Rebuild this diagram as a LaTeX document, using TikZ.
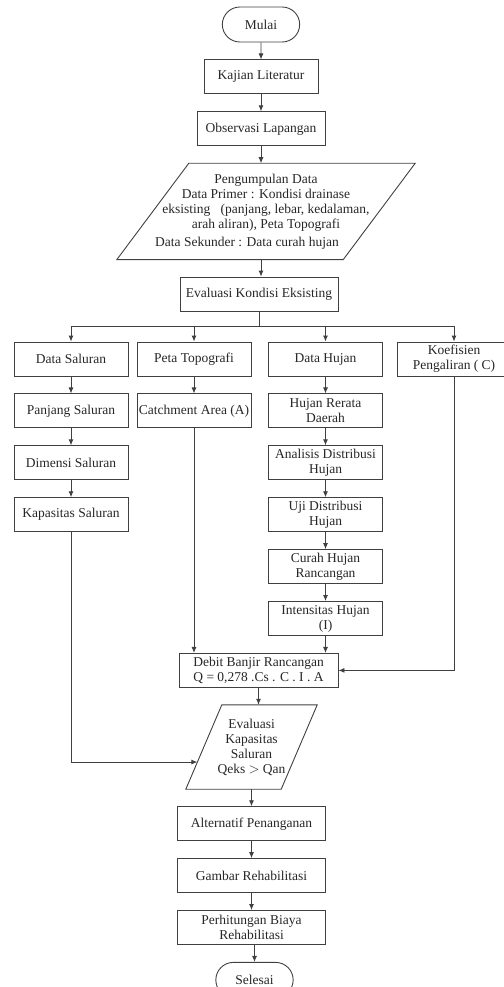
\documentclass[tikz,border=0pt]{standalone}
\usepackage{fontspec}
\setmainfont{Liberation Serif}
\usetikzlibrary{positioning,arrows.meta,shapes.misc}

\begin{document}
\begin{tikzpicture}[
  x=1pt, y=1pt,
  node distance=17pt,
  every node/.style={font=\fontsize{13.5}{15}\selectfont, text=black!85},
  box/.style={draw=black!75, line width=0.9pt, align=center,
              minimum width=114pt, minimum height=34pt, inner sep=1pt},
  term/.style={draw=black!75, line width=0.9pt, rounded rectangle,
               minimum width=84pt, minimum height=35pt},
  io/.style={align=center, inner sep=0pt},
  line/.style={draw=black!75, line width=0.9pt, line join=miter},
  arrow/.style={-{Latex[length=6pt,width=5pt]}, draw=black!75, line width=0.9pt}
]
\useasboundingbox (0,0) rectangle (503,-987);
\node[term] (mulai) at (261,-24.5) {Mulai};
\node[box, below=of mulai] (kajian) {Kajian Literatur};
\node[box, below=of kajian, minimum width=128pt] (obs) {Observasi Lapangan};
\node[io, below=of obs, xshift=5pt, minimum width=226pt, minimum height=96pt] (data)
  {Pengumpulan Data\\Data Primer : Kondisi drainase\\eksisting\ \ \ (panjang, lebar, kedalaman,\\arah aliran), Peta Topografi\\[3pt]\hspace*{-38pt}Data Sekunder : Data curah hujan};
\draw[line] ([xshift=36pt]data.north west) -- ([xshift=36pt]data.north east)
  -- ([xshift=-36pt]data.south east) -- ([xshift=-36pt]data.south west) -- cycle;
\node[box, below=of data, xshift=-7pt, minimum width=158pt] (evk) {Evaluasi Kondisi Eksisting};
\coordinate[below=15pt of evk.south] (br);

\node[box] (ds) at (71,-359) {Data Saluran};
\node[box] (peta) at (194,-359) {Peta Topografi};
\node[box] (dh) at (325.5,-359) {Data Hujan};
\node[box] (kp) at (454,-359) {Koefisien\\Pengaliran ( C)};

\node[box, below=of ds] (ps) {Panjang Saluran};
\node[box, below=of ps] (dim) {Dimensi Saluran};
\node[box, below=of dim] (ks) {Kapasitas Saluran};
\node[box, below=of peta] (ca) {Catchment Area (A)};
\node[box, below=of dh] (hr) {Hujan Rerata\\Daerah};
\node[box, below=of hr] (ad) {Analisis Distribusi\\Hujan};
\node[box, below=of ad] (ud) {Uji Distribusi\\Hujan};
\node[box, below=of ud] (ch) {Curah Hujan\\Rancangan};
\node[box, below=of ch] (ih) {Intensitas Hujan\\(I)};

\node[box, below=of ih, xshift=-67pt, minimum width=159pt] (debit)
  {Debit Banjir Rancangan\\Q = 0,278 .Cs . C . I . A};
\node[io, below=of debit, xshift=-7pt, minimum width=95pt, minimum height=84pt] (evkap)
  {Evaluasi\\Kapasitas\\Saluran\\Qeks $>$ Qan};
\draw[line] ([xshift=18pt]evkap.north west) -- ([xshift=18pt]evkap.north east)
  -- ([xshift=-18pt]evkap.south east) -- ([xshift=-18pt]evkap.south west) -- cycle;
\coordinate (evkapin) at ([xshift=-6.4pt, yshift=-15pt]evkap.west);
\node[box, below=of evkap, minimum width=148pt] (alt) {Alternatif Penanganan};
\node[box, below=of alt, minimum width=148pt] (gam) {Gambar Rehabilitasi};
\node[box, below=of gam, minimum width=148pt] (biaya) {Perhitungan Biaya\\Rehabilitasi};
\node[term, below=of biaya, xshift=3pt] (selesai) {Selesai};

\draw[arrow] (mulai) -- (kajian);
\draw[arrow] (kajian) -- (obs);
\draw[arrow] (obs) -- (obs |- data.north);
\draw[arrow] (obs |- data.south) -- (obs |- evk.north);
\draw[line] (evk.south) -- (br);
\draw[arrow] (br) -| (ds);
\draw[arrow] (br) -| (peta);
\draw[arrow] (br) -| (dh);
\draw[arrow] (br) -| (kp);
\draw[arrow] (ds) -- (ps);
\draw[arrow] (ps) -- (dim);
\draw[arrow] (dim) -- (ks);
\draw[arrow] (peta) -- (ca);
\draw[arrow] (dh) -- (hr);
\draw[arrow] (hr) -- (ad);
\draw[arrow] (ad) -- (ud);
\draw[arrow] (ud) -- (ch);
\draw[arrow] (ch) -- (ih);
\draw[arrow] (ca) -- (ca |- debit.north);
\draw[arrow] (ih) -- (ih |- debit.north);
\draw[arrow] (kp) |- (debit);
\draw[arrow] (debit) -- (debit |- evkap.north);
\draw[arrow] (ks) |- (evkapin);
\draw[arrow] (evkap) -- (alt);
\draw[arrow] (alt) -- (gam);
\draw[arrow] (gam) -- (biaya);
\draw[arrow] (biaya.south -| selesai) -- (selesai);
\end{tikzpicture}
\end{document}
